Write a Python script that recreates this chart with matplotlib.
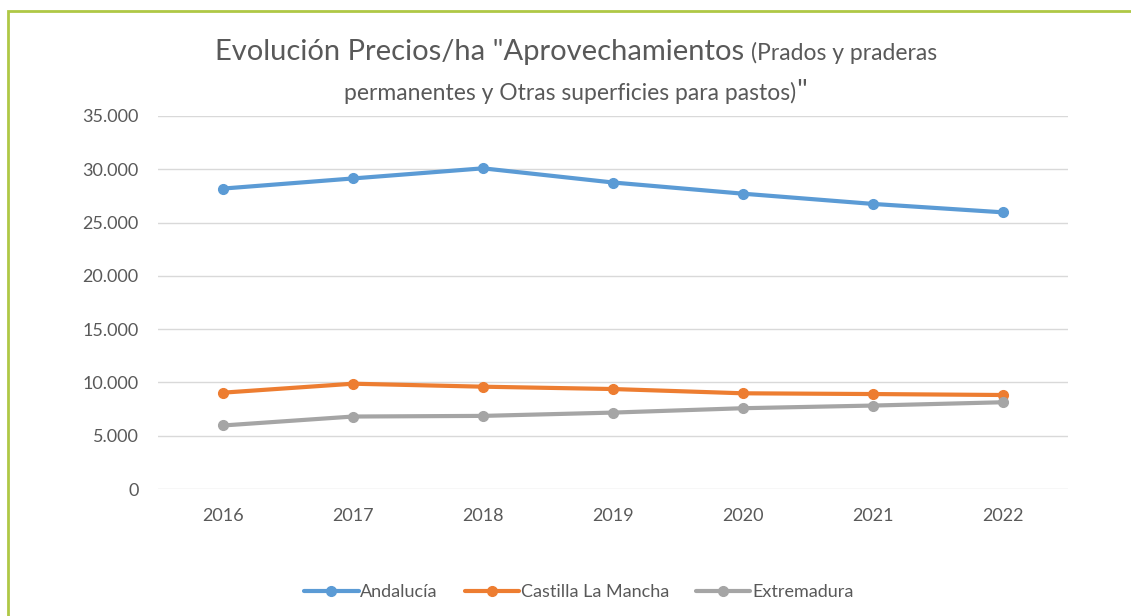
import matplotlib.pyplot as plt
from matplotlib.patches import Rectangle
from matplotlib.ticker import FuncFormatter, MultipleLocator

plt.rcParams['font.family'] = ['Lato', 'DejaVu Sans']

# ----------------------------
# Data
# ----------------------------
years = ["2016", "2017", "2018", "2019", "2020", "2021", "2022"]
andalucia = [28190, 29140, 30090, 28760, 27710, 26750, 25960]
castilla = [9040, 9880, 9600, 9380, 8980, 8910, 8820]
extremadura = [5960, 6800, 6860, 7170, 7580, 7830, 8140]

series = [
    ("Andalucía", andalucia, "#5B9BD5"),
    ("Castilla La Mancha", castilla, "#ED7D31"),
    ("Extremadura", extremadura, "#A5A5A5"),
]

text_col = "#595959"
W, H = 1131, 616

fig = plt.figure(figsize=(W / 100, H / 100), dpi=100)
ax = fig.add_axes([158 / W, 1 - 489 / H, (1068 - 158) / W, (489 - 116) / H])

x = list(range(len(years)))
for name, vals, col in series:
    ax.plot(x, vals, color=col, lw=3, marker="o", ms=7, label=name,
            solid_capstyle="round")

ax.set_xlim(-0.5, len(years) - 0.5)
ax.set_ylim(0, 35000)
ax.yaxis.set_major_locator(MultipleLocator(5000))
ax.yaxis.set_major_formatter(FuncFormatter(lambda v, p: f"{int(v):,}".replace(",", ".")))
ax.set_xticks(x)
ax.set_xticklabels(years)
ax.grid(axis="y", color="#D9D9D9", lw=1)
ax.set_axisbelow(True)
for s in ax.spines.values():
    s.set_visible(False)
ax.tick_params(length=0, labelsize=13, labelcolor=text_col)
ax.tick_params(axis="y", pad=14)
ax.tick_params(axis="x", pad=14)

# ----------------------------
# Title with mixed font sizes
# ----------------------------
fig.canvas.draw()
renderer = fig.canvas.get_renderer()


def draw_line(parts, y_px, center_px):
    # measure first, then place pieces side by side on a shared baseline
    arts = [fig.text(0, 1 - y_px / H, t, fontsize=fs, color=text_col, va="baseline")
            for t, fs in parts]
    widths = [a.get_window_extent(renderer).width for a in arts]
    x0 = center_px - sum(widths) / 2
    for a, w in zip(arts, widths):
        a.set_x(x0 / W)
        x0 += w


draw_line([("Evolución Precios/ha \"Aprovechamientos ", 21),
           ("(Prados y praderas", 16.5)], 60, 576)
draw_line([("permanentes y Otras superficies para pastos)", 16.5),
           ("\"", 21)], 100, 576)

# ----------------------------
# Legend
# ----------------------------
fig.legend(loc="center", bbox_to_anchor=(579 / W, 1 - 592 / H), ncol=3, frameon=False,
           fontsize=13, labelcolor=text_col, handlelength=3, columnspacing=1.5,
           handletextpad=0.1)

# green frame of the chart box
fig.patches.append(Rectangle((8 / W, -0.1), 1.2, 1 - 11 / H + 0.1, transform=fig.transFigure,
                             fill=False, edgecolor="#AFC845", lw=2))

fig.savefig("out.png", dpi=100)
